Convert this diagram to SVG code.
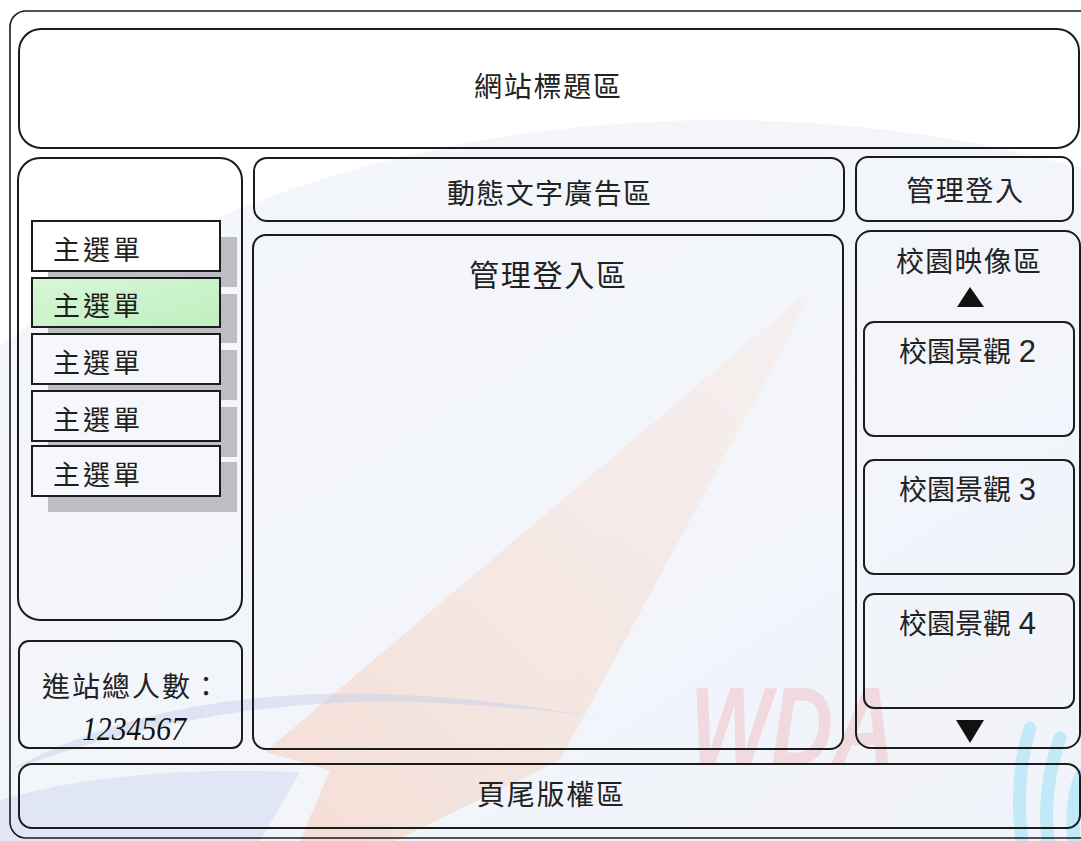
<svg xmlns="http://www.w3.org/2000/svg" width="1081" height="841" viewBox="0 0 1081 841">
<defs>
<linearGradient id="bgGrad" x1="0" y1="0" x2="1" y2="1">
<stop offset="0" stop-color="#f5f7fc"/>
<stop offset="1" stop-color="#eef1f8"/>
</linearGradient>
<linearGradient id="orangeGrad" x1="0" y1="1" x2="1" y2="0">
<stop offset="0" stop-color="#f7b998" stop-opacity="0.75"/>
<stop offset="1" stop-color="#fbe3d6" stop-opacity="0.55"/>
</linearGradient>
<linearGradient id="greenGrad" x1="0" y1="0" x2="1" y2="1">
<stop offset="0" stop-color="#d6f8d6"/>
<stop offset="1" stop-color="#c0efc0"/>
</linearGradient>
<style>
.box{fill:none;stroke:#1c1c1c;stroke-width:2}
.frame{fill:none;stroke:#1c1c1c;stroke-width:1.6}
.lbl{font-family:'Liberation Sans','Noto Sans CJK TC',sans-serif;font-size:28px;fill:#222}
.dg{font-size:31px}
.menu{font-family:'Liberation Sans','Noto Sans CJK TC',sans-serif;font-size:27px;fill:#1e1e1e}
.item{fill:#f6f7fc;stroke:#1c1c1c;stroke-width:2}
.shadow{fill:#bdbec3}
.tri{fill:#111}
</style>
</defs>

<g id="watermark">
<rect x="0" y="0" width="1081" height="841" fill="#ffffff"/>
<ellipse cx="720" cy="720" rx="920" ry="600" fill="url(#bgGrad)"/>
<path d="M265 752 L812 288 L785 345 L560 760 L395 841 L300 841 L330 770 Z" fill="url(#orangeGrad)" opacity="0.5"/>
<path d="M10 770 Q230 650 600 718 Q540 708 420 702 Q220 695 10 770 Z" fill="#c3cee9" opacity="0.45"/>
<path d="M0 841 L0 800 Q120 765 300 772 L260 841 Z" fill="#ccd5ed" opacity="0.45"/>
<text x="690" y="765" font-family="'Liberation Sans',sans-serif" font-size="112" font-weight="bold" font-style="italic" fill="#ee4444" opacity="0.14" textLength="205" lengthAdjust="spacingAndGlyphs">WDA</text>
<g fill="none" stroke="#7fdcf5" stroke-width="13" stroke-linecap="round" opacity="0.4">
<path d="M1022 841 Q1014 780 1030 728"/>
<path d="M1048 841 Q1042 790 1060 738"/>
<path d="M1074 841 Q1070 800 1081 775"/>
</g>
</g>

<rect id="outer-frame" class="frame" x="10" y="11" width="1100" height="827" rx="16"/>

<g id="connectors"/>

<g id="title">
<rect class="box" x="19" y="29" width="1060" height="119" rx="22"/>
<text class="lbl" x="474" y="97" textLength="147">網站標題區</text>
</g>

<g id="left-menu-panel">
<rect class="box" x="18" y="158" width="224" height="462" rx="22"/>
</g>

<g id="menu-items">
<g id="menu-shadows">
<rect class="shadow" x="48" y="237" width="189" height="50"/>
<rect class="shadow" x="48" y="294" width="189" height="49"/>
<rect class="shadow" x="48" y="350" width="189" height="50"/>
<rect class="shadow" x="48" y="407" width="189" height="50"/>
<rect class="shadow" x="48" y="462" width="189" height="50"/>
</g>
<g id="menu-1">
<rect class="item" x="32" y="221" width="188" height="50" style="fill:#ffffff"/>
<text class="menu" x="53" y="260" textLength="87">主選單</text>
</g>
<g id="menu-2">
<rect class="item" x="32" y="278" width="188" height="49" style="fill:url(#greenGrad)"/>
<text class="menu" x="53" y="316" textLength="87">主選單</text>
</g>
<g id="menu-3">
<rect class="item" x="32" y="334" width="188" height="50"/>
<text class="menu" x="53" y="373" textLength="87">主選單</text>
</g>
<g id="menu-4">
<rect class="item" x="32" y="391" width="188" height="50"/>
<text class="menu" x="53" y="430" textLength="87">主選單</text>
</g>
<g id="menu-5">
<rect class="item" x="32" y="446" width="188" height="50"/>
<text class="menu" x="53" y="485" textLength="87">主選單</text>
</g>
</g>

<g id="visitor-counter">
<rect class="box" x="19" y="641" width="223" height="107" rx="10"/>
<text class="lbl" x="42" y="697" textLength="178">進站總人數：</text>
<text x="82" y="740" font-family="'Liberation Serif',serif" font-style="italic" font-size="34" fill="#111" textLength="104" lengthAdjust="spacingAndGlyphs">1234567</text>
</g>

<g id="marquee-ad">
<rect class="box" x="254" y="158" width="590" height="63" rx="13"/>
<text class="lbl" x="447" y="204" textLength="204">動態文字廣告區</text>
</g>

<g id="admin-login-area">
<rect class="box" x="253" y="235" width="590" height="514" rx="13"/>
<text class="lbl" x="469" y="286" style="font-size:30px" textLength="157">管理登入區</text>
</g>

<g id="admin-login-button">
<rect class="box" x="856" y="157" width="217" height="64" rx="12"/>
<text class="lbl" x="906" y="201" textLength="117">管理登入</text>
</g>

<g id="campus-image-area">
<rect class="box" x="856" y="231" width="224" height="517" rx="15"/>
<text class="lbl" x="896" y="272" textLength="145">校園映像區</text>
<polygon class="tri" points="957,307 970,287 984,307"/>
<polygon class="tri" points="956,720 984,720 970,743"/>
</g>

<g id="campus-view-2">
<rect class="box" x="864" y="322" width="210" height="114" rx="10"/>
<text class="lbl" x="899" y="362">校園景觀 <tspan class="dg">2</tspan></text>
</g>

<g id="campus-view-3">
<rect class="box" x="864" y="460" width="210" height="114" rx="10"/>
<text class="lbl" x="899" y="500">校園景觀 <tspan class="dg">3</tspan></text>
</g>

<g id="campus-view-4">
<rect class="box" x="864" y="594" width="210" height="114" rx="10"/>
<text class="lbl" x="899" y="634">校園景觀 <tspan class="dg">4</tspan></text>
</g>

<g id="footer">
<rect class="box" x="19" y="764" width="1061" height="64" rx="13"/>
<text class="lbl" x="477" y="805" textLength="147">頁尾版權區</text>
</g>
</svg>
